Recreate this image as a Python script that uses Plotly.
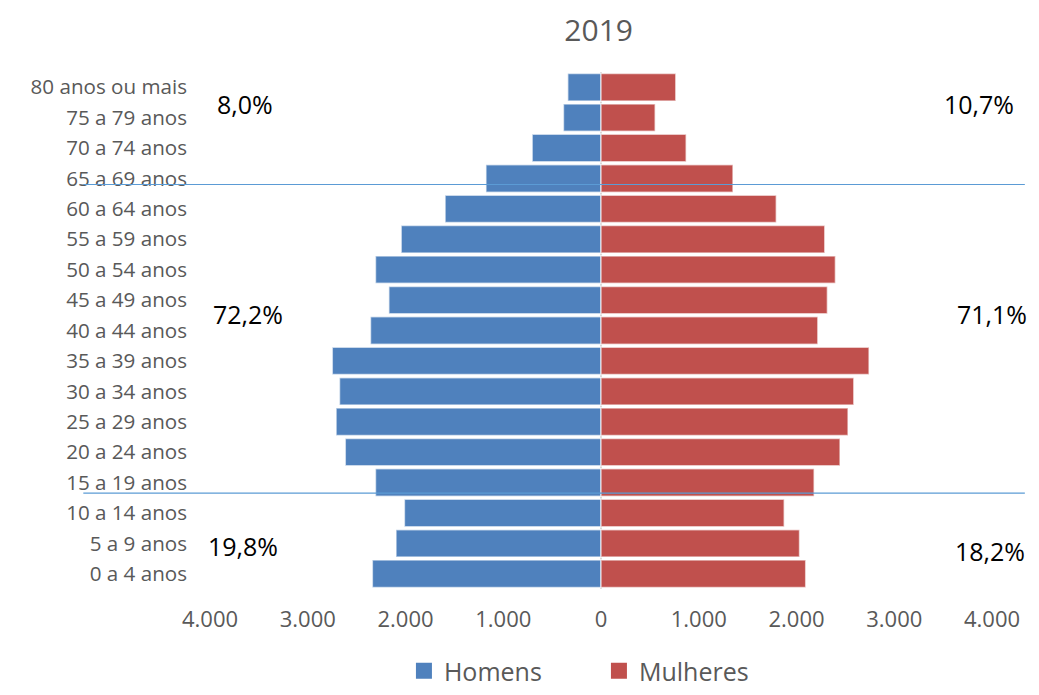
import plotly.graph_objects as go

categories = ["0 a 4 anos", "5 a 9 anos", "10 a 14 anos", "15 a 19 anos", "20 a 24 anos",
              "25 a 29 anos", "30 a 34 anos", "35 a 39 anos", "40 a 44 anos", "45 a 49 anos",
              "50 a 54 anos", "55 a 59 anos", "60 a 64 anos", "65 a 69 anos", "70 a 74 anos",
              "75 a 79 anos", "80 anos ou mais"]
homens = [2339, 2097, 2011, 2307, 2616, 2710, 2675, 2749, 2358, 2170, 2307, 2044, 1595, 1177, 704, 384, 340]
mulheres = [2094, 2031, 1874, 2180, 2445, 2527, 2586, 2742, 2218, 2316, 2398, 2289, 1793, 1350, 871, 554, 765]
tick_vals = [-4000, -3000, -2000, -1000, 0, 1000, 2000, 3000, 4000]
tick_text = ["4.000", "3.000", "2.000", "1.000", "0", "1.000", "2.000", "3.000", "4.000"]
pct_labels = ["8,0%", "10,7%", "72,2%", "71,1%", "19,8%", "18,2%"]
pct_pos = [(0.045, 0.938), (0.983, 0.938), (0.049, 0.532), (1.0, 0.532), (0.042, 0.083), (0.997, 0.074)]

FONT = "Open Sans"
GREY = "#595959"
BLUE = "#4f81bd"
RED = "#c0504d"

# the page has an 8px body margin: figure is sized/offset to compensate
W, H = 1023, 679
L, R, T, B = 202, 39, 64, 98

fig = go.Figure()
fig.add_trace(go.Bar(
    y=categories, x=[-v for v in homens], name="Homens", orientation="h", showlegend=False,
    marker=dict(color=BLUE, line=dict(color="rgba(255,255,255,0.6)", width=1.5)),
))
fig.add_trace(go.Bar(
    y=categories, x=mulheres, name="Mulheres", orientation="h", showlegend=False,
    marker=dict(color=RED, line=dict(color="rgba(255,255,255,0.6)", width=1.5)),
))
# legend entries with larger square swatches
for nm, col in (("Homens", BLUE), ("Mulheres", RED)):
    fig.add_trace(go.Scatter(x=[None], y=[None], mode="markers", name=nm,
                             marker=dict(symbol="square", size=17, color=col),
                             hoverinfo="skip"))

annotations = []
for txt, (ax, ay) in zip(pct_labels, pct_pos):
    annotations.append(dict(text=txt, x=ax, y=ay, xref="paper", yref="paper",
                            showarrow=False, xanchor="center", yanchor="middle",
                            font=dict(family=FONT, size=25, color="#000000")))

shapes = [
    dict(type="line", xref="paper", yref="y", x0=-0.162, x1=1.042, y0=12.8, y1=12.8,
         line=dict(color="#5b9bd5", width=1.2), layer="above"),
    dict(type="line", xref="paper", yref="y", x0=-0.162, x1=1.042, y0=2.65, y1=2.65,
         line=dict(color="#5b9bd5", width=1.2), layer="above"),
]

fig.update_layout(
    width=W, height=H,
    margin=dict(l=L, r=R, t=T, b=B),
    paper_bgcolor="white", plot_bgcolor="white",
    barmode="relative", bargap=0.1,
    font=dict(family=FONT, color=GREY),
    title=dict(text="2019", x=0.497, xref="paper", xanchor="center",
               y=1, yref="container", yanchor="top", pad=dict(t=12),
               font=dict(family=FONT, size=30, color=GREY)),
    xaxis=dict(range=[-4000, 4000], tickvals=tick_vals, ticktext=tick_text,
               showgrid=False, zeroline=True, zerolinecolor="#d9d9d9", zerolinewidth=2,
               showline=False, ticks="", ticklabelstandoff=15, layer="above traces",
               tickfont=dict(family=FONT, size=22, color=GREY)),
    yaxis=dict(categoryorder="array", categoryarray=categories, showgrid=False,
               showline=False, ticks="", ticklabelstandoff=22, zeroline=False,
               range=[-0.5, 16.5],
               tickfont=dict(family=FONT, size=20.6, color=GREY)),
    legend=dict(orientation="h", x=0.248, xanchor="left",
                y=1 - 663 / H, yref="container", yanchor="middle",
                entrywidth=150, itemwidth=30,
                font=dict(family=FONT, size=25, color=GREY)),
    annotations=annotations,
    shapes=shapes,
)

fig.write_html("out.html")
